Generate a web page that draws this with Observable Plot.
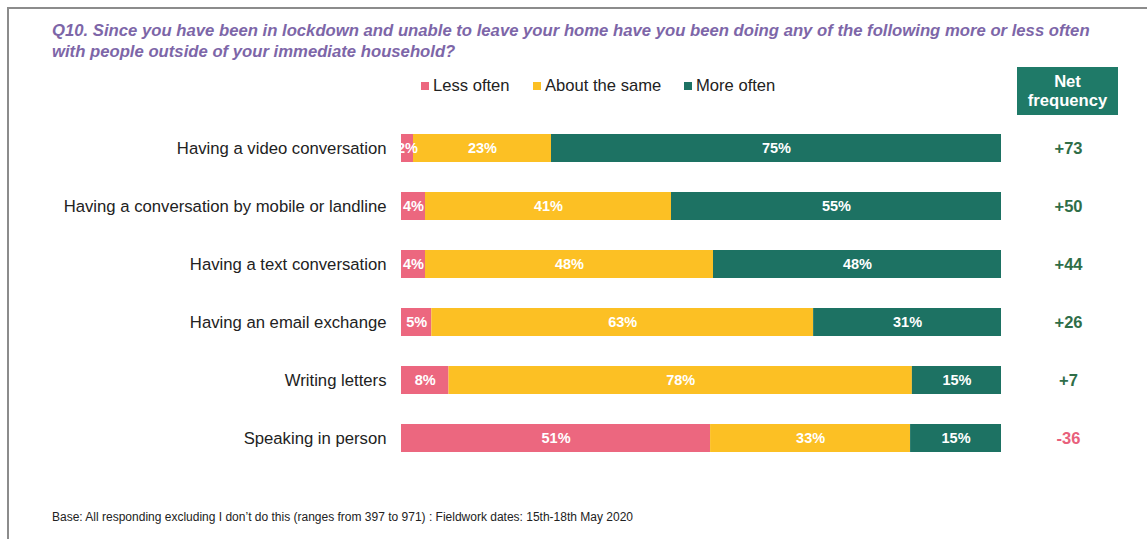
<!DOCTYPE html>
<html>
<head>
<meta charset="utf-8">
<script src="https://cdn.jsdelivr.net/npm/d3@7"></script>
<script src="https://cdn.jsdelivr.net/npm/@observablehq/plot@0.6"></script>
<style>
  html, body { margin: 0; padding: 0; background: #fff; }
  body { font-family: "Liberation Sans", Arial, sans-serif; }
  #wrap { position: relative; width: 1147px; height: 539px; overflow: hidden; background: #fff; }
  #frame { position: absolute; left: 7px; top: 7px; width: 1160px; height: 560px;
           border-top: 2px solid #8c8c8c; border-left: 2px solid #8c8c8c; }
  #title { position: absolute; left: 52px; top: 19.5px; font-size: 16.7px; font-weight: bold;
           font-style: italic; color: #7d66a8; line-height: 21px; white-space: nowrap; }
  #legend { position: absolute; left: 0; top: 76px; width: 1147px; height: 20px; font-size: 16.6px; color: #222; }
  #legend span.item { position: absolute; top: 0; display: inline-flex; align-items: center; white-space: nowrap; }
  #legend span.sw { display: inline-block; width: 8px; height: 8px; margin-right: 4px; }
  #netbox { position: absolute; left: 1017px; top: 67px; width: 101px; height: 48px;
            background: #1f7a68; color: #fff; font-weight: bold; font-size: 16.6px;
            text-align: center; line-height: 19px; padding-top: 5px; box-sizing: border-box; }
  #chart { position: absolute; left: 0; top: 100px; }
  #foot { position: absolute; left: 52px; top: 510px; font-size: 12px; color: #222; white-space: nowrap; }
</style>
</head>
<body>
<div id="wrap">
  <div id="frame"></div>
  <div id="title">Q10. Since you have been in lockdown and unable to leave your home have you been doing any of the following more or less often<br>with people outside of your immediate household?</div>
  <div id="legend"></div>
  <div id="netbox">Net<br>frequency</div>
  <div id="chart"></div>
  <div id="foot">Base: All responding excluding I don’t do this (ranges from 397 to 971) : Fieldwork dates: 15th-18th May 2020</div>
</div>
<script>
const activities = [
  "Having a video conversation",
  "Having a conversation by mobile or landline",
  "Having a text conversation",
  "Having an email exchange",
  "Writing letters",
  "Speaking in person"
];
const responses = ["Less often", "About the same", "More often"];
const lessOften = [2, 4, 4, 5, 8, 51];
const aboutSame = [23, 41, 48, 63, 78, 33];
const moreOften = [75, 55, 48, 31, 15, 15];
const netFrequency = [73, 50, 44, 26, 7, -36];
const colors = ["#ec677f", "#fcc024", "#1d7263"];

const seriesValues = [lessOften, aboutSame, moreOften];
const rows = [];
activities.forEach((a, i) => {
  responses.forEach((r, j) => rows.push({activity: a, response: r, value: seriesValues[j][i]}));
});
const netRows = activities.map((a, i) => ({activity: a, net: netFrequency[i]}));

// legend
const legendLeft = [421, 533, 684];
const legend = document.getElementById("legend");
responses.forEach((r, j) => {
  const s = document.createElement("span");
  s.className = "item";
  s.style.left = legendLeft[j] + "px";
  s.innerHTML = `<span class="sw" style="background:${colors[j]}"></span>${r}`;
  legend.appendChild(s);
});

const stackOpts = {x: "value", y: "activity", z: "response", fill: "response", order: responses, offset: "normalize"};

const chart = Plot.plot({
  width: 1147,
  height: 390,
  marginLeft: 401,
  marginRight: 146,
  marginTop: 4,
  marginBottom: 8,
  style: {fontFamily: "'Liberation Sans', Arial, sans-serif", background: "transparent"},
  x: {domain: [0, 1], axis: null},
  y: {domain: activities, padding: 0.517, label: null},
  color: {domain: responses, range: colors},
  marks: [
    Plot.axisY({tickSize: 0, tickPadding: 15, fontSize: 16.7, color: "#222", label: null}),
    Plot.barX(rows, Plot.stackX(stackOpts)),
    Plot.text(rows, Plot.stackX({
      x: "value", y: "activity", z: "response", order: responses, offset: "normalize",
      text: d => d.value + "%",
      fill: "white",
      fontWeight: "bold",
      fontSize: 14.5
    })),
    Plot.text(netRows, {
      y: "activity",
      frameAnchor: "right",
      dx: 67,
      textAnchor: "middle",
      text: d => (d.net > 0 ? "+" : "") + d.net,
      fill: d => d.net < 0 ? "#e8607b" : "#2f6e48",
      fontWeight: "bold",
      fontSize: 16.5
    })
  ]
});
document.getElementById("chart").appendChild(chart);
</script>
</body>
</html>
